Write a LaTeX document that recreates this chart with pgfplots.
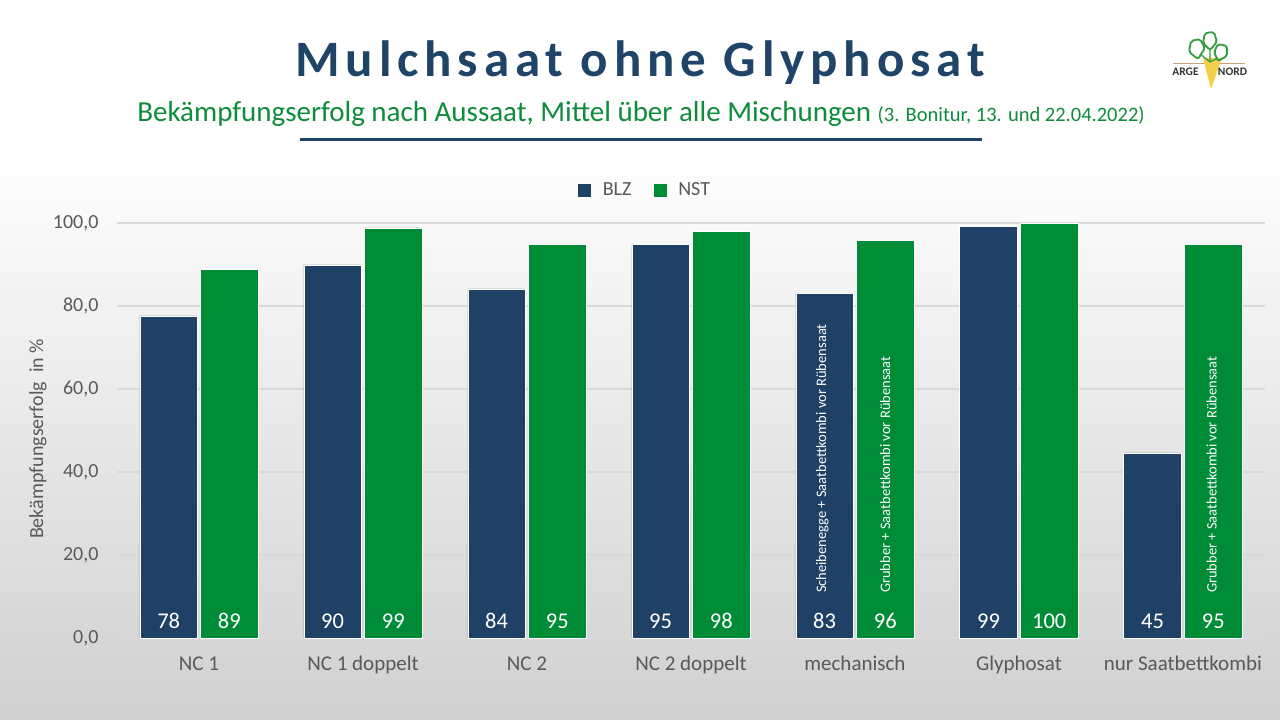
\documentclass[border=0pt]{standalone}
\usepackage{fontspec}
\setmainfont{Carlito}
\newfontfamily\titlefont{Carlito}[LetterSpace=11.5]
\usepackage{pgfplots}
\pgfplotsset{compat=1.18}
\definecolor{blz}{HTML}{1F4166}
\definecolor{nst}{HTML}{008C37}
\definecolor{titleblue}{HTML}{1F4467}
\definecolor{subgreen}{HTML}{0E8C3C}
\definecolor{ticktext}{HTML}{595959}
\definecolor{gridc}{HTML}{D9D9D9}
\definecolor{bgbot}{HTML}{D0D0D0}
\definecolor{logogreen}{HTML}{2E9E3E}
\definecolor{logoyellow}{HTML}{F3CF4A}
\definecolor{logoline}{HTML}{C8A27A}
\begin{document}
\begin{tikzpicture}[x=1pt,y=1pt]
\useasboundingbox (0,0) rectangle (1280,720);
\fill[white] (0,0) rectangle (1280,720);
\shade[top color=white, bottom color=bgbot] (0,0) rectangle (1280,570);
% title
\node[anchor=base, inner sep=0, text=titleblue, font=\titlefont\bfseries\fontsize{51}{55}\selectfont] at (640,643) {Mulchsaat ohne Glyphosat};
\node[anchor=base, inner sep=0, text=subgreen] at (641,598) {\fontsize{29}{33}\selectfont Bekämpfungserfolg nach Aussaat, Mittel über alle Mischungen \fontsize{20.5}{24}\selectfont(3. Bonitur, 13. und 22.04.2022)};
\draw[titleblue, line width=3pt] (300,580.5) -- (982,580.5);
% logo
\draw[logoline, line width=0.8pt] (1173,657) -- (1245,657);
\fill[logoyellow] (1203,662) -- (1222,662) -- (1211,631) -- cycle;
\draw[logogreen, line width=1.8pt, rounded corners=2pt] (1189,668) -- (1191,679) -- (1200,681) -- (1205,672) -- (1198,661) -- cycle;
\draw[logogreen, line width=1.8pt, rounded corners=2pt] (1203,677) -- (1205,687) -- (1214,688) -- (1217,678) -- (1210,670) -- cycle;
\draw[logogreen, line width=1.8pt, rounded corners=2pt] (1214,668) -- (1218,676) -- (1227,674) -- (1227,664) -- (1218,659) -- cycle;
\draw[logogreen, line width=1.2pt] (1210,658) -- (1200,666) (1210,658) -- (1210,670) (1210,658) -- (1218,662);
\node[anchor=center, inner sep=0, text=black!80, font=\bfseries\fontsize{11.5}{12}\selectfont] at (1185.5,648) {ARGE};
\node[anchor=center, inner sep=0, text=black!80, font=\bfseries\fontsize{11.5}{12}\selectfont] at (1232.5,648) {NORD};
% y label
\node[rotate=90, anchor=center, inner sep=0, text=ticktext, font=\fontsize{20}{24}\selectfont] at (38,281) {Bekämpfungserfolg\ \ in \%};
\begin{axis}[
  at={(117pt,82pt)}, anchor=south west, scale only axis,
  width=1148pt, height=415pt,
  xmin=-0.5, xmax=6.5, ymin=0, ymax=100,
  ybar, clip=false,
  axis line style={draw=none},
  xtick={0,...,6},
  xticklabels={NC 1, NC 1 doppelt, NC 2, NC 2 doppelt, mechanisch, Glyphosat, nur Saatbettkombi},
  ytick={0,20,...,100},
  major tick length=0pt,
  ymajorgrids, grid style={gridc, line width=1.3pt},
  tick label style={text=ticktext, font=\fontsize{20}{24}\selectfont},
  xticklabel style={anchor=base, yshift=-33pt, font=\fontsize{21}{24}\selectfont},
  yticklabel style={anchor=east, xshift=-15pt, /pgf/number format/.cd, fixed, fixed zerofill, precision=1, use comma, assume math mode=true},
  legend style={at={(0.46,1.0795)}, anchor=center, draw=none, fill=none, font=\fontsize{20}{24}\selectfont, text=ticktext, legend columns=2,
    /tikz/every odd column/.append style={column sep=10pt},
    /tikz/every even column/.append style={column sep=20pt}},
]
\addplot[fill=blz, draw=white, line width=0.8pt, bar width=0.35, bar shift=-0.185,
  legend image code/.code={\fill[blz] (0pt,-6pt) rectangle (12pt,6pt);}]
  coordinates {(0,77.6) (1,89.9) (2,84.1) (3,94.8) (4,83.1) (5,99.1) (6,44.6)};
\addlegendentry{BLZ}
\addplot[fill=nst, draw=white, line width=0.8pt, bar width=0.35, bar shift=0.185,
  legend image code/.code={\fill[nst] (0pt,-6pt) rectangle (12pt,6pt);}]
  coordinates {(0,88.7) (1,98.8) (2,94.8) (3,97.9) (4,95.8) (5,99.8) (6,94.8)};
\addlegendentry{NST}
\addplot[forget plot, draw=none, fill=none, bar width=0.35, bar shift=-0.185,
  point meta=explicit symbolic, nodes near coords,
  nodes near coords style={text=white, font=\fontsize{22.5}{26}\selectfont, yshift=5.5pt}]
  coordinates {(0,0) [78] (1,0) [90] (2,0) [84] (3,0) [95] (4,0) [83] (5,0) [99] (6,0) [45]};
\addplot[forget plot, draw=none, fill=none, bar width=0.35, bar shift=0.185,
  point meta=explicit symbolic, nodes near coords,
  nodes near coords style={text=white, font=\fontsize{22.5}{26}\selectfont, yshift=5.5pt}]
  coordinates {(0,0) [89] (1,0) [99] (2,0) [95] (3,0) [98] (4,0) [96] (5,0) [100] (6,0) [95]};
\node[rotate=90, anchor=base west, inner sep=0, text=white, font=\fontsize{14.5}{16}\selectfont] at (axis cs:3.825,10.8) {Scheibenegge + Saatbettkombi vor Rübensaat};
\node[rotate=90, anchor=base west, inner sep=0, text=white, font=\fontsize{14.5}{16}\selectfont] at (axis cs:4.215,10.8) {Grubber + Saatbettkombi vor Rübensaat};
\node[rotate=90, anchor=base west, inner sep=0, text=white, font=\fontsize{14.5}{16}\selectfont] at (axis cs:6.205,10.8) {Grubber + Saatbettkombi vor Rübensaat};
\end{axis}
\end{tikzpicture}
\end{document}
